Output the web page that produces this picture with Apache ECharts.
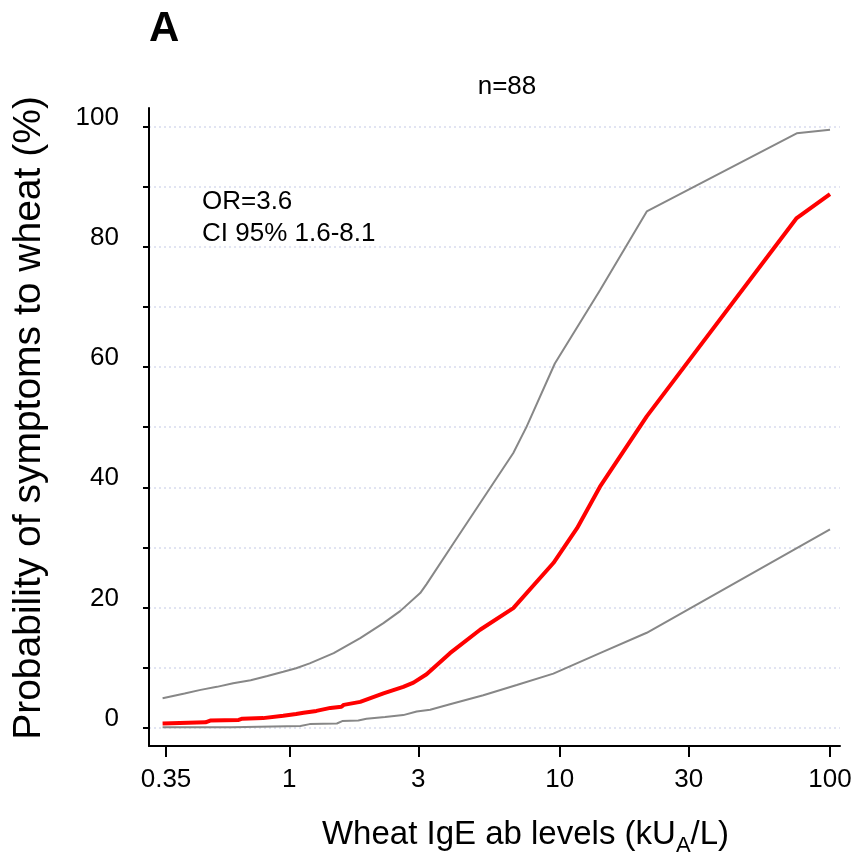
<!DOCTYPE html>
<html>
<head>
<meta charset="utf-8">
<script src="https://cdn.jsdelivr.net/npm/echarts@6/dist/echarts.min.js"></script>
<style>
  html, body { margin: 0; padding: 0; background: #fff; }
  #chart { width: 856px; height: 867px; }
</style>
</head>
<body>
<div id="chart"></div>
<script>
// x tick values (kUA/L), drawn on a log10 axis
const xTicks = [0.35, 1, 3, 10, 30, 100];
const yTicks = [0, 10, 20, 30, 40, 50, 60, 70, 80, 90, 100];
const yLabels = [0, 20, 40, 60, 80, 100];

// fitted probability (red)
const fitX = [0.34, 0.49, 0.51, 0.65, 0.67, 0.80, 0.81, 0.95, 0.96, 1.06, 1.13, 1.26, 1.42, 1.56, 1.59, 1.83, 2.23, 2.64, 2.88, 3.22, 3.93, 5.08, 6.74, 9.48, 11.6, 14.1, 21.0, 75.3, 100];
const fitY = [0.7, 0.9, 1.2, 1.3, 1.5, 1.6, 1.8, 2.0, 2.2, 2.3, 2.5, 2.8, 3.3, 3.5, 3.8, 4.3, 5.7, 6.8, 7.5, 8.9, 12.4, 16.3, 19.9, 27.4, 33.2, 40.1, 51.8, 84.8, 88.8];

// upper 95% band (grey)
const upperX = [0.34, 0.41, 0.47, 0.54, 0.62, 0.72, 0.83, 0.95, 1.06, 1.19, 1.46, 1.83, 2.23, 2.57, 3.05, 3.22, 4.05, 6.74, 7.55, 9.6, 14.1, 21.0, 75.3, 100];
const upperY = [4.9, 5.7, 6.3, 6.8, 7.4, 7.9, 8.6, 9.3, 9.9, 10.7, 12.4, 14.9, 17.4, 19.4, 22.4, 23.9, 30.7, 45.7, 50.1, 60.6, 72.8, 85.9, 98.9, 99.5];

// lower 95% band (grey)
const lowerX = [0.34, 0.61, 0.62, 1.10, 1.19, 1.50, 1.57, 1.80, 1.93, 2.26, 2.64, 2.96, 3.32, 3.93, 5.22, 6.94, 9.48, 14.1, 21.0, 100];
const lowerY = [0.1, 0.1, 0.3, 0.3, 0.6, 0.7, 1.1, 1.2, 1.5, 1.8, 2.1, 2.7, 3.0, 3.9, 5.4, 7.1, 9.0, 12.4, 15.8, 33.0];

const toLog = (xs, ys) => xs.map((x, i) => [Math.log10(x), ys[i]]);

const chart = echarts.init(document.getElementById('chart'), null, { renderer: 'canvas' });

const font = '"Liberation Sans", Arial, Helvetica, sans-serif';

const option = {
  animation: false,
  backgroundColor: '#fff',
  textStyle: { fontFamily: font, color: '#000' },
  title: [
    {
      text: 'A',
      left: 144,
      top: 3,
      textStyle: { fontFamily: font, fontSize: 42, fontWeight: 'bold', color: '#000' }
    },
    {
      text: 'n=88',
      left: 502,
      top: 69,
      textAlign: 'center',
      textStyle: { fontFamily: font, fontSize: 26, fontWeight: 'normal', color: '#000' }
    },
    {
      text: 'OR=3.6\nCI 95% 1.6-8.1',
      left: 197,
      top: 181,
      textStyle: { fontFamily: font, fontSize: 26, fontWeight: 'normal', color: '#000', lineHeight: 32 }
    }
  ],
  grid: { left: 149, right: 16, top: 108, bottom: 121, containLabel: false },
  xAxis: {
    type: 'value',
    min: -0.5188,
    max: 2.037,
    name: '{n|Wheat IgE ab levels (kU}{s|A}{n|/L)}',
    nameLocation: 'middle',
    nameGap: 72,
    nameTextStyle: {
      padding: [0, 0, 0, 62],
      rich: {
        n: { fontFamily: font, fontSize: 33, color: '#000', lineHeight: 32, verticalAlign: 'top' },
        s: { fontFamily: font, fontSize: 22, color: '#000', lineHeight: 22, verticalAlign: 'top', padding: [17, 0, 0, 0] }
      }
    },
    axisLine: { show: true, onZero: false, lineStyle: { color: '#000', width: 2 } },
    axisTick: {
      show: true,
      length: 11,
      customValues: xTicks.map(v => Math.log10(v)),
      lineStyle: { color: '#000', width: 2 }
    },
    axisLabel: {
      customValues: xTicks.map(v => Math.log10(v)),
      formatter: v => {
        let best = xTicks[0];
        xTicks.forEach(t => { if (Math.abs(Math.log10(t) - v) < Math.abs(Math.log10(best) - v)) best = t; });
        return String(best);
      },
      fontFamily: font,
      fontSize: 26,
      color: '#000',
      margin: 21
    },
    splitLine: { show: false }
  },
  yAxis: {
    type: 'value',
    min: -3.04,
    max: 103.11,
    name: 'Probability of symptoms to wheat (%)',
    nameLocation: 'middle',
    nameGap: 100,
    nameTextStyle: { fontFamily: font, fontSize: 39, color: '#000', padding: [0, 0, 0, 18] },
    axisLine: { show: true, onZero: false, lineStyle: { color: '#000', width: 2 } },
    axisTick: {
      show: true,
      length: 6,
      customValues: yTicks,
      lineStyle: { color: '#000', width: 2 }
    },
    axisLabel: {
      customValues: yLabels,
      fontFamily: font,
      fontSize: 26,
      color: '#000',
      margin: 30,
      verticalAlign: 'bottom',
      lineHeight: 18
    },
    splitLine: {
      show: true,
      lineStyle: { color: '#d8dbee', width: 1.5, type: [2, 3] }
    }
  },
  series: [
    {
      name: 'upper',
      type: 'line',
      data: toLog(upperX, upperY),
      showSymbol: false,
      lineStyle: { color: '#878787', width: 2 },
      z: 2
    },
    {
      name: 'lower',
      type: 'line',
      data: toLog(lowerX, lowerY),
      showSymbol: false,
      lineStyle: { color: '#878787', width: 2 },
      z: 2
    },
    {
      name: 'fit',
      type: 'line',
      data: toLog(fitX, fitY),
      showSymbol: false,
      lineStyle: { color: '#ff0000', width: 4 },
      z: 3
    }
  ]
};

chart.setOption(option);
window.addEventListener('resize', () => chart.resize());
</script>
</body>
</html>
